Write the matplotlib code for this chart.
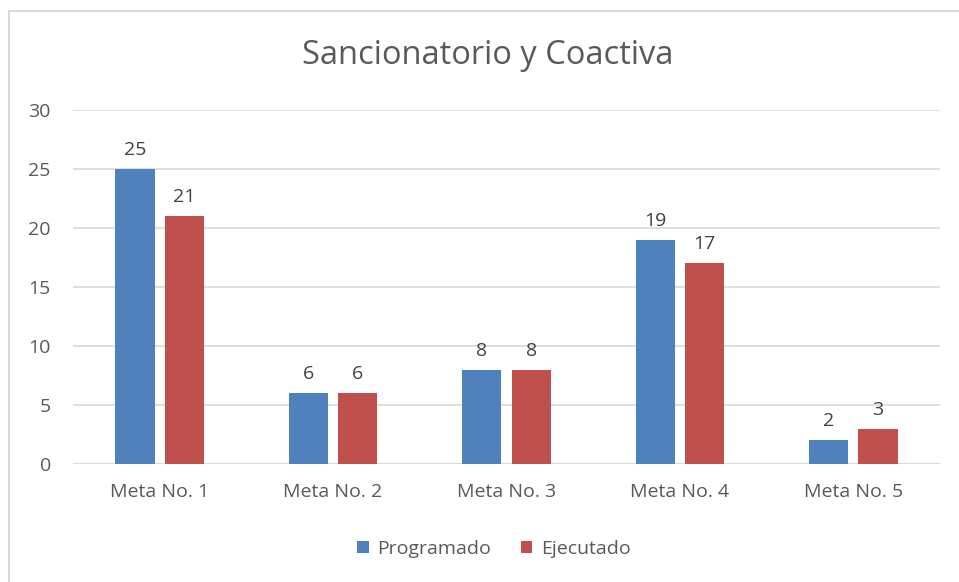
import numpy as np
import matplotlib.pyplot as plt
from matplotlib.patches import Rectangle

plt.rcParams['font.family'] = ['Open Sans', 'DejaVu Sans']

categories = ['Meta No. 1', 'Meta No. 2', 'Meta No. 3', 'Meta No. 4', 'Meta No. 5']
programado = [25, 6, 8, 19, 2]
ejecutado = [21, 6, 8, 17, 3]
yticks = [0, 5, 10, 15, 20, 25, 30]

blue = '#4f81bd'
red = '#c0504d'
grey = '#595959'

fig = plt.figure(figsize=(9.59, 5.82), dpi=100)
ax = fig.add_axes([73/959, 1-464/582, 867/959, 354/582])

x = np.arange(len(categories))
w = 0.227
gap = 0.058
b1 = ax.bar(x - (w+gap)/2, programado, w, color=blue, label='Programado', zorder=3)
b2 = ax.bar(x + (w+gap)/2, ejecutado, w, color=red, label='Ejecutado', zorder=3)

for bars in (b1, b2):
    for r in bars:
        ax.text(r.get_x() + r.get_width()/2, r.get_height() + 0.85, '%d' % r.get_height(),
                ha='center', va='bottom', fontsize=14, color='#404040')

ax.set_xlim(-0.5, len(categories) - 0.5)
ax.set_ylim(0, 30)
ax.set_yticks(yticks)
ax.set_xticks(x)
ax.set_xticklabels(categories)
ax.yaxis.grid(True, color='#d9d9d9', lw=1.2, zorder=0)
ax.tick_params(axis='both', length=0, labelsize=14, labelcolor=grey)
ax.tick_params(axis='y', pad=16)
ax.tick_params(axis='x', pad=14)
for s in ax.spines.values():
    s.set_visible(False)
ax.axhline(0, color='#d9d9d9', lw=1.2, zorder=2)

fig.text(488/959, 1-55/582, 'Sancionatorio y Coactiva', ha='center', va='center',
         fontsize=23.5, color=grey)

ax.legend(loc='center', bbox_to_anchor=(494/959, 1-549/582), bbox_transform=fig.transFigure,
          ncol=2, frameon=False, fontsize=14, labelcolor=grey, handlelength=0.6,
          handleheight=0.6, handletextpad=0.45, columnspacing=1.5)

fig.patches.append(Rectangle((9/959, -0.1), 1.2, 1.1 - 11/582, transform=fig.transFigure,
                             fill=False, edgecolor='#d9d9d9', lw=1.5))

fig.savefig('out.png', dpi=100)
